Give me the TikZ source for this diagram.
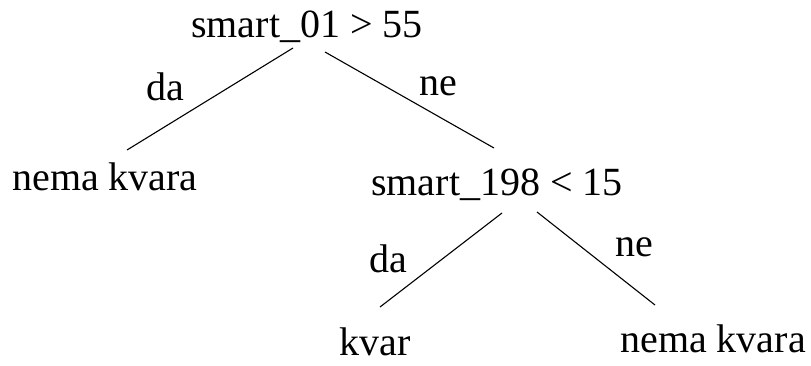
\documentclass[tikz,border=0pt]{standalone}
\usepackage{fontspec}
\setmainfont{Liberation Serif}
\usepackage{tikz}

\begin{document}
\begin{tikzpicture}[x=1pt, y=-1pt,
  txt/.style={anchor=base, inner sep=0pt, font=\fontsize{40}{48}\selectfont},
  branch/.style={line width=1.1pt}]
  \useasboundingbox (0, 0) rectangle (811, 365);
  % Add tests and leaves
  \node [txt] (root) at (307, 37) {smart\_01 > 55};
  \node [txt] (left) at (105, 190) {nema kvara};
  \node [txt] (inner) at (497, 195) {smart\_198 < 15};
  \node [txt] (kvar) at (375, 355) {kvar};
  \node [txt] (right) at (713, 352) {nema kvara};
  % Draw branches
  \draw [branch] ([xshift=-14pt, yshift=-11pt]root.base) -- ([xshift=22pt, yshift=40pt]left.base);
  \draw [branch] ([xshift=18pt, yshift=-15pt]root.base) -- ([xshift=-3pt, yshift=47pt]inner.base);
  \draw [branch] ([xshift=5pt, yshift=-18pt]inner.base) -- ([xshift=5pt, yshift=48pt]kvar.base);
  \draw [branch] ([xshift=40pt, yshift=-17pt]inner.base) -- ([xshift=-58pt, yshift=47pt]right.base);
  % Add branch labels
  \node [txt] (da1) at (165, 100) {da};
  \node [txt] (ne1) at (438, 95) {ne};
  \node [txt] (da2) at (388, 272) {da};
  \node [txt] (ne2) at (634, 256) {ne};
\end{tikzpicture}
\end{document}
